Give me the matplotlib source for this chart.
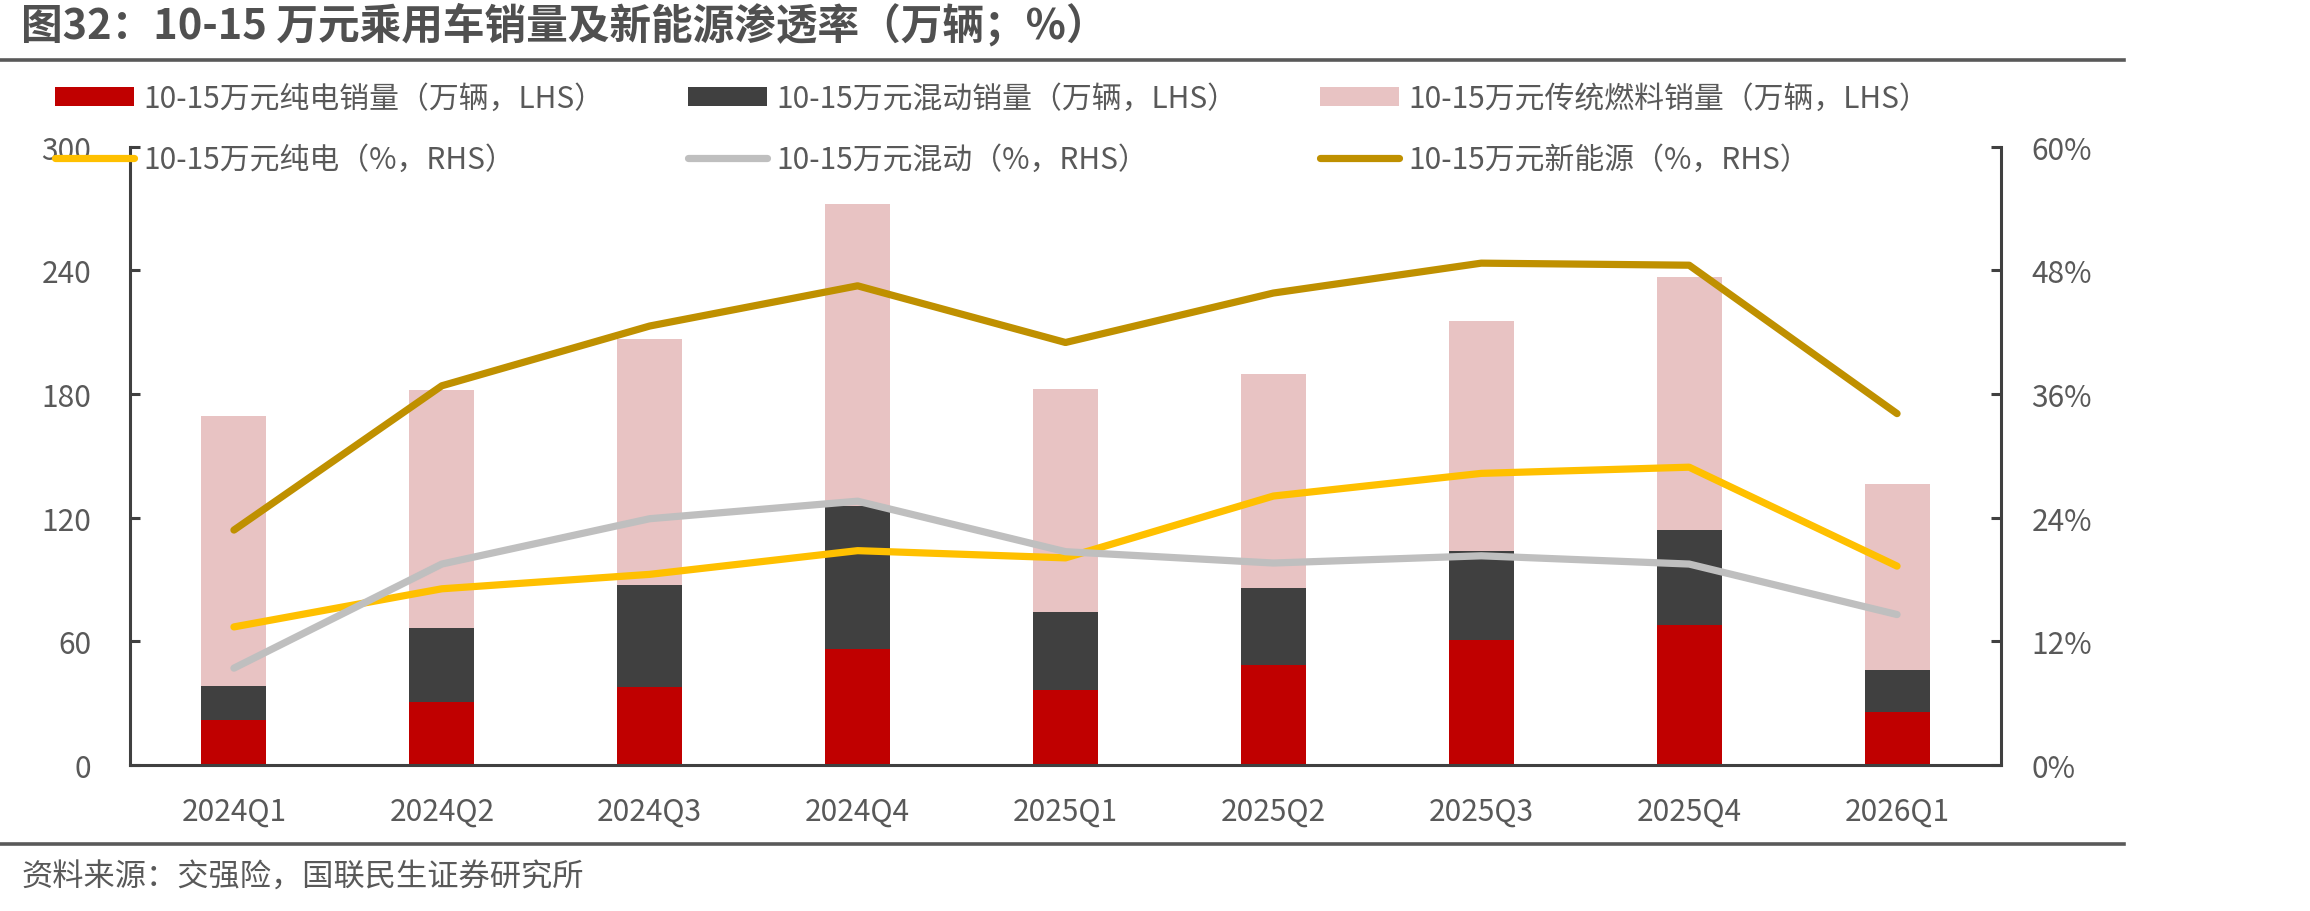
import matplotlib
matplotlib.use("Agg")
import matplotlib.pyplot as plt
from matplotlib.lines import Line2D
from matplotlib.patches import Patch
from matplotlib.ticker import FuncFormatter

plt.rcParams['font.family'] = ['Noto Sans CJK SC', 'DejaVu Sans']

# ---------------- data ----------------
quarters = ["2024Q1", "2024Q2", "2024Q3", "2024Q4", "2025Q1",
            "2025Q2", "2025Q3", "2025Q4", "2026Q1"]
bev_sales = [22.0, 30.6, 38.0, 56.5, 36.2, 48.6, 60.6, 68.0, 25.6]       # 纯电 (万辆)
hev_sales = [16.3, 35.7, 49.3, 69.1, 37.9, 37.3, 43.1, 46.1, 20.3]       # 混动 (万辆)
ice_sales = [131.0, 115.5, 119.3, 146.4, 108.1, 103.6, 111.7, 122.6, 90.3]  # 传统燃料 (万辆)
bev_share = [13.4, 17.1, 18.5, 20.8, 20.1, 26.1, 28.3, 28.9, 19.3]      # 纯电 (%)
hev_share = [9.4, 19.5, 23.9, 25.6, 20.7, 19.6, 20.3, 19.5, 14.6]       # 混动 (%)
nev_share = [22.8, 36.8, 42.6, 46.5, 41.0, 45.8, 48.7, 48.5, 34.1]      # 新能源 (%)

labels_bar = ["10-15万元纯电销量（万辆，LHS）",
              "10-15万元混动销量（万辆，LHS）",
              "10-15万元传统燃料销量（万辆，LHS）"]
labels_line = ["10-15万元纯电（%，RHS）",
               "10-15万元混动（%，RHS）",
               "10-15万元新能源（%，RHS）"]

title = "图32：10-15 万元乘用车销量及新能源渗透率（万辆；%）"
source = "资料来源：交强险，国联民生证券研究所"

# ---------------- style ----------------
c_bev, c_hev, c_ice = "#C00000", "#404040", "#E8C3C3"
c_l_bev, c_l_hev, c_l_nev = "#FFC000", "#BFBFBF", "#BF9000"
txt = "#595959"
spine_c = "#404040"
fs = 21.5

W, H = 2310, 912
fig = plt.figure(figsize=(W / 100, H / 100), dpi=100)
ax = fig.add_axes([130 / W, 1 - 766 / H, (2001 - 130) / W, (766 - 147.7) / H])
ax2 = ax.twinx()

x = list(range(len(quarters)))
bw = 0.313
ax.bar(x, bev_sales, bw, color=c_bev, zorder=2)
ax.bar(x, hev_sales, bw, bottom=bev_sales, color=c_hev, zorder=2)
bottom3 = [a + b for a, b in zip(bev_sales, hev_sales)]
ax.bar(x, ice_sales, bw, bottom=bottom3, color=c_ice, zorder=2)

lw = 5.2
ax2.plot(x, bev_share, color=c_l_bev, lw=lw, solid_capstyle='round', solid_joinstyle='round')
ax2.plot(x, hev_share, color=c_l_hev, lw=lw, solid_capstyle='round', solid_joinstyle='round')
ax2.plot(x, nev_share, color=c_l_nev, lw=lw, solid_capstyle='round', solid_joinstyle='round')

ax.set_xlim(-0.5, len(quarters) - 0.5)
ax.set_ylim(0, 300)
ax.set_yticks(range(0, 301, 60))
ax2.set_ylim(0, 60)
ax2.set_yticks(range(0, 61, 12))
ax2.yaxis.set_major_formatter(FuncFormatter(lambda v, p: f"{int(v)}%"))
ax.set_xticks(x)
ax.set_xticklabels(quarters)

for a in (ax, ax2):
    for s in a.spines.values():
        s.set_color(spine_c)
        s.set_linewidth(2.2)
    a.spines['top'].set_visible(False)
ax.spines['right'].set_visible(False)
ax2.spines['left'].set_visible(False)
ax2.spines['bottom'].set_visible(False)

ax.tick_params(axis='y', direction='in', length=7, width=2.2, color=spine_c,
               labelsize=fs, labelcolor=txt, pad=28)
ax2.tick_params(axis='y', direction='in', length=7, width=2.2, color=spine_c,
                labelsize=fs, labelcolor=txt, pad=22)
ax.tick_params(axis='x', length=0, labelsize=fs, labelcolor=txt, pad=22)

# ---------------- legend (3 columns, 2 rows) ----------------
cols = [
    (55, [Patch(facecolor=c_bev, edgecolor='none'),
          Line2D([], [], color=c_l_bev, lw=lw, solid_capstyle='round')],
     [labels_bar[0], labels_line[0]]),
    (688, [Patch(facecolor=c_hev, edgecolor='none'),
           Line2D([], [], color=c_l_hev, lw=lw, solid_capstyle='round')],
     [labels_bar[1], labels_line[1]]),
    (1320, [Patch(facecolor=c_ice, edgecolor='none'),
            Line2D([], [], color=c_l_nev, lw=lw, solid_capstyle='round')],
     [labels_bar[2], labels_line[2]]),
]
for xpos, hs, ls in cols:
    leg = fig.legend(hs, ls, loc='upper left', bbox_to_anchor=(xpos / W, 1 - 84 / H),
                     frameon=False, fontsize=fs, handlelength=2.65, handleheight=0.56,
                     handletextpad=0.3, labelspacing=1.0, borderpad=0, borderaxespad=0,
                     labelcolor=txt)
    leg.set_zorder(10)

# ---------------- title, rules, source ----------------
fig.text(21 / W, 1 - 26 / H, title, fontsize=30, fontweight='bold', color="#505050",
         ha='left', va='center')
fig.add_artist(Line2D([0, 2124 / W], [1 - 60.5 / H] * 2, color="#595959", lw=2.6,
                      transform=fig.transFigure))
fig.add_artist(Line2D([0, 2124 / W], [1 - 844.7 / H] * 2, color="#595959", lw=2.6,
                      transform=fig.transFigure))
fig.text(21 / W, 1 - 877.5 / H, source, fontsize=22.5, color=txt, ha='left', va='center')

fig.savefig("out.png", dpi=100)
